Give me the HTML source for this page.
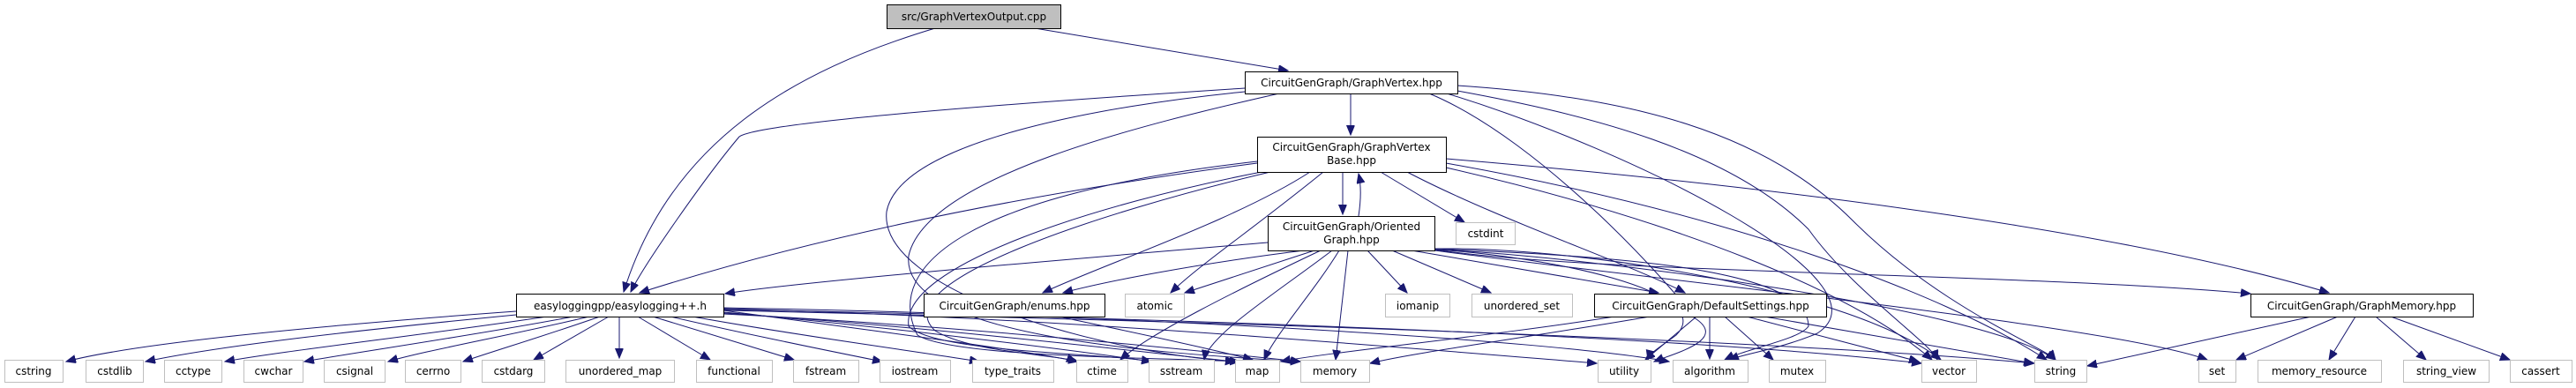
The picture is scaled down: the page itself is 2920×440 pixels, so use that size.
<!DOCTYPE html>
<html><head><meta charset="utf-8"><style>
html,body{margin:0;padding:0;background:#fff;}
svg{display:block;}
text{font-family:"DejaVu Sans","Liberation Sans",sans-serif;font-size:12px;fill:#000;}
.n{fill:#fff;stroke:#000;stroke-width:1;}
.s{fill:#bfbfbf;stroke:#000;stroke-width:1;}
.g{fill:#fff;stroke:#bfbfbf;stroke-width:1;}
path.e{fill:none;stroke:#191970;stroke-width:1;marker-end:url(#a);}
</style></head><body>
<svg width="2920" height="440" viewBox="0 0 2920 440" xmlns="http://www.w3.org/2000/svg">
<defs><marker id="a" markerUnits="userSpaceOnUse" markerWidth="12" markerHeight="10" refX="11" refY="4.5" orient="auto"><path d="M0,0 L11,4.5 L0,9 z" fill="#191970" stroke="#191970"/></marker></defs>

<!-- edges -->
<path class="e" d="M1060,32 C900,80 760,160 707,331"/>
<path class="e" d="M1173,32 L1460,80"/>
<path class="e" d="M1411,100 C1100,120 860,140 838,155 C800,200 730,300 715,331"/>
<path class="e" d="M1531,106 L1531,153"/>
<path class="e" d="M1411,104 C1250,120 1020,160 1005,240 C995,330 1250,400 1400,410"/>
<path class="e" d="M1450,106 C1300,140 1050,200 1030,290 C1020,380 1300,400 1474,410"/>
<path class="e" d="M1652,97 C1850,110 2000,150 2100,250 C2200,350 2320,395 2330,408"/>
<path class="e" d="M1652,103 C1800,130 1960,170 2050,260 C2100,330 2190,390 2196,408"/>
<path class="e" d="M1640,106 C1850,170 2150,320 2060,378 C2020,395 1975,402 1960,408"/>
<path class="e" d="M1620,106 C1750,160 1900,330 1920,360 C1960,385 1900,400 1875,410"/>

<path class="e" d="M1425,185 C1200,215 950,260 725,332"/>
<path class="e" d="M1522,195 L1522,243"/>
<path class="e" d="M1540,245 C1543,225 1543,210 1540,197"/>
<path class="e" d="M1485,195 C1400,250 1250,300 1182,332"/>
<path class="e" d="M1500,195 C1420,260 1360,300 1327,332"/>
<path class="e" d="M1565,195 L1660,252"/>
<path class="e" d="M1595,195 C1700,250 1850,300 1910,332"/>
<path class="e" d="M1639,180 C2000,210 2400,260 2640,332"/>
<path class="e" d="M1639,185 C1950,240 2200,330 2320,408"/>
<path class="e" d="M1639,190 C1900,250 2100,330 2190,408"/>
<path class="e" d="M1425,183 C1100,220 1000,300 1040,380 C1080,405 1300,405 1405,410"/>
<path class="e" d="M1430,195 C1250,230 1020,300 1030,370 C1060,400 1250,400 1305,410"/>
<path class="e" d="M1440,195 C1250,240 1000,320 1060,375 C1100,400 1200,402 1220,410"/>

<path class="e" d="M1437,275 C1200,295 900,320 822,333"/>
<path class="e" d="M1478,284 C1350,300 1250,320 1205,332"/>
<path class="e" d="M1490,284 L1343,332"/>
<path class="e" d="M1497,284 C1400,330 1300,380 1270,408"/>
<path class="e" d="M1510,284 C1450,330 1370,380 1365,408"/>
<path class="e" d="M1518,284 C1490,330 1445,380 1433,408"/>
<path class="e" d="M1528,284 L1514,408"/>
<path class="e" d="M1550,284 L1595,332"/>
<path class="e" d="M1578,284 L1690,332"/>
<path class="e" d="M1600,284 L1880,332"/>
<path class="e" d="M1626,283 C1800,310 2300,310 2551,333"/>
<path class="e" d="M1626,282 C1800,280 2100,330 2200,408"/>
<path class="e" d="M1626,283 C1800,290 2250,350 2330,408"/>
<path class="e" d="M1626,284 C1900,320 2400,370 2502,408"/>
<path class="e" d="M1626,282 C1800,290 2050,300 2050,370 C2040,385 1980,395 1955,408"/>
<path class="e" d="M1626,283 C1750,290 1950,330 1900,380 C1880,395 1870,400 1868,408"/>

<path class="e" d="M1200,359 C1300,380 1390,400 1420,408"/>

<!-- easylogging to bottom -->
<path class="e" d="M585,353 C350,370 150,390 75,410"/>
<path class="e" d="M585,357 C400,375 250,392 165,410"/>
<path class="e" d="M620,359 C480,380 320,398 255,410"/>
<path class="e" d="M650,359 C540,380 400,400 345,410"/>
<path class="e" d="M668,359 C580,380 480,398 440,410"/>
<path class="e" d="M680,359 C620,380 560,398 525,410"/>
<path class="e" d="M690,359 L605,408"/>
<path class="e" d="M702,359 L702,406"/>
<path class="e" d="M723,359 L805,408"/>
<path class="e" d="M740,359 L900,408"/>
<path class="e" d="M760,359 C850,380 950,400 1000,410"/>
<path class="e" d="M785,359 C900,380 1050,400 1110,410"/>
<path class="e" d="M820,352 C950,370 1150,395 1222,410"/>
<path class="e" d="M820,354 C1000,370 1200,395 1305,410"/>
<path class="e" d="M820,355 C1050,370 1300,400 1400,410"/>
<path class="e" d="M820,356 C1100,370 1380,400 1474,410"/>
<path class="e" d="M820,350 C1200,360 1600,395 1810,412"/>
<path class="e" d="M820,349 C1300,358 1750,385 1892,410"/>
<path class="e" d="M820,351 C1300,360 1900,380 2178,412"/>
<path class="e" d="M820,352 C1400,365 2000,385 2306,412"/>

<!-- DefaultSettings -->
<path class="e" d="M1870,359 C1750,380 1600,400 1553,412"/>
<path class="e" d="M1830,359 C1700,380 1500,400 1452,410"/>
<path class="e" d="M1923,359 L1865,408"/>
<path class="e" d="M1938,359 L1938,407"/>
<path class="e" d="M1955,359 L2010,408"/>
<path class="e" d="M1980,359 L2175,410"/>
<path class="e" d="M2000,359 L2305,412"/>

<!-- GraphMemory -->
<path class="e" d="M2620,359 L2366,415"/>
<path class="e" d="M2650,359 L2535,408"/>
<path class="e" d="M2670,359 L2640,408"/>
<path class="e" d="M2693,359 L2750,408"/>
<path class="e" d="M2710,359 L2845,408"/>

<!-- nodes -->
<rect class="s" x="1005.5" y="5.5" width="197" height="27"/><text x="1104" y="23" text-anchor="middle">src/GraphVertexOutput.cpp</text>
<rect class="n" x="1411.5" y="81.5" width="241" height="25"/><text x="1532" y="98" text-anchor="middle">CircuitGenGraph/GraphVertex.hpp</text>
<rect class="n" x="1425.5" y="155.5" width="214" height="40"/><text x="1532" y="171" text-anchor="middle">CircuitGenGraph/GraphVertex</text><text x="1532" y="186" text-anchor="middle">Base.hpp</text>
<rect class="n" x="1437.5" y="245.5" width="189" height="39"/><text x="1532" y="261" text-anchor="middle">CircuitGenGraph/Oriented</text><text x="1532" y="276" text-anchor="middle">Graph.hpp</text>
<rect class="g" x="1650.5" y="252.5" width="67" height="25"/><text x="1684" y="269" text-anchor="middle">cstdint</text>

<rect class="n" x="585.5" y="333.5" width="235" height="26"/><text x="703" y="351" text-anchor="middle">easyloggingpp/easylogging++.h</text>
<rect class="n" x="1047.5" y="333.5" width="205" height="26"/><text x="1150" y="351" text-anchor="middle">CircuitGenGraph/enums.hpp</text>
<rect class="g" x="1275.5" y="333.5" width="67" height="26"/><text x="1309" y="351" text-anchor="middle">atomic</text>
<rect class="g" x="1570.5" y="333.5" width="73" height="26"/><text x="1607" y="351" text-anchor="middle">iomanip</text>
<rect class="g" x="1668.5" y="333.5" width="114" height="26"/><text x="1725" y="351" text-anchor="middle">unordered_set</text>
<rect class="n" x="1807.5" y="333.5" width="263" height="26"/><text x="1939" y="351" text-anchor="middle">CircuitGenGraph/DefaultSettings.hpp</text>
<rect class="n" x="2551.5" y="333.5" width="252" height="26"/><text x="2677" y="351" text-anchor="middle">CircuitGenGraph/GraphMemory.hpp</text>

<g>
<rect class="g" x="5.5" y="408.5" width="66" height="25"/><text x="38" y="425" text-anchor="middle">cstring</text>
<rect class="g" x="97.5" y="408.5" width="65" height="25"/><text x="130" y="425" text-anchor="middle">cstdlib</text>
<rect class="g" x="186.5" y="408.5" width="65" height="25"/><text x="219" y="425" text-anchor="middle">cctype</text>
<rect class="g" x="276.5" y="408.5" width="67" height="25"/><text x="310" y="425" text-anchor="middle">cwchar</text>
<rect class="g" x="367.5" y="408.5" width="69" height="25"/><text x="402" y="425" text-anchor="middle">csignal</text>
<rect class="g" x="459.5" y="408.5" width="63" height="25"/><text x="491" y="425" text-anchor="middle">cerrno</text>
<rect class="g" x="546.5" y="408.5" width="71" height="25"/><text x="582" y="425" text-anchor="middle">cstdarg</text>
<rect class="g" x="641.5" y="408.5" width="123" height="25"/><text x="703" y="425" text-anchor="middle">unordered_map</text>
<rect class="g" x="789.5" y="408.5" width="86" height="25"/><text x="832" y="425" text-anchor="middle">functional</text>
<rect class="g" x="899.5" y="408.5" width="74" height="25"/><text x="936" y="425" text-anchor="middle">fstream</text>
<rect class="g" x="997.5" y="408.5" width="80" height="25"/><text x="1037" y="425" text-anchor="middle">iostream</text>
<rect class="g" x="1102.5" y="408.5" width="92" height="25"/><text x="1148" y="425" text-anchor="middle">type_traits</text>
<rect class="g" x="1220.5" y="408.5" width="58" height="25"/><text x="1249" y="425" text-anchor="middle">ctime</text>
<rect class="g" x="1302.5" y="408.5" width="74" height="25"/><text x="1339" y="425" text-anchor="middle">sstream</text>
<rect class="g" x="1400.5" y="408.5" width="50" height="25"/><text x="1425" y="425" text-anchor="middle">map</text>
<rect class="g" x="1474.5" y="408.5" width="78" height="25"/><text x="1513" y="425" text-anchor="middle">memory</text>
<rect class="g" x="1811.5" y="408.5" width="60" height="25"/><text x="1841" y="425" text-anchor="middle">utility</text>
<rect class="g" x="1896.5" y="408.5" width="85" height="25"/><text x="1938" y="425" text-anchor="middle">algorithm</text>
<rect class="g" x="2005.5" y="408.5" width="64" height="25"/><text x="2037" y="425" text-anchor="middle">mutex</text>
<rect class="g" x="2178.5" y="408.5" width="62" height="25"/><text x="2209" y="425" text-anchor="middle">vector</text>
<rect class="g" x="2306.5" y="408.5" width="59" height="25"/><text x="2336" y="425" text-anchor="middle">string</text>
<rect class="g" x="2492.5" y="408.5" width="42" height="25"/><text x="2513" y="425" text-anchor="middle">set</text>
<rect class="g" x="2559.5" y="408.5" width="140" height="25"/><text x="2629" y="425" text-anchor="middle">memory_resource</text>
<rect class="g" x="2724.5" y="408.5" width="97" height="25"/><text x="2773" y="425" text-anchor="middle">string_view</text>
<rect class="g" x="2845.5" y="408.5" width="70" height="25"/><text x="2880" y="425" text-anchor="middle">cassert</text>
</g>
</svg>
</body></html>
